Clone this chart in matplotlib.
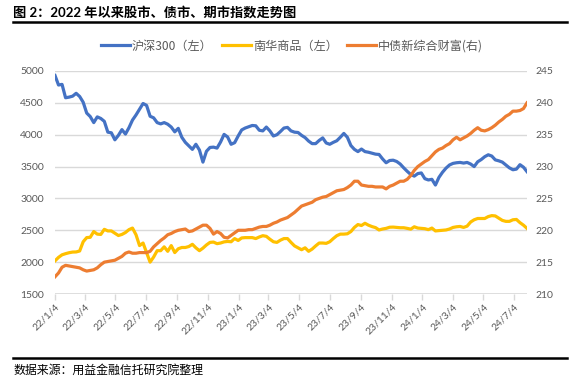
import numpy as np
import matplotlib
matplotlib.use("Agg")
import matplotlib.pyplot as plt
import matplotlib.dates as mdates
import datetime as dt

plt.rcParams['font.family'] = ['Lato', 'Noto Sans CJK SC', 'DejaVu Sans']

title = "图 2：2022 年以来股市、债市、期市指数走势图"
source = "数据来源：用益金融信托研究院整理"
series_names = ["沪深300（左）", "南华商品（左）", "中债新综合财富(右)"]

start_date = dt.date(2022, 1, 4)
end_date = dt.date(2024, 7, 30)

hs300 = [4930, 4780, 4790, 4580, 4590, 4605, 4650, 4600, 4510, 4340,
         4285, 4190, 4280, 4255, 4210, 4040, 4030, 3920, 3990, 4080,
         4010, 4110, 4230, 4310, 4400, 4490, 4460, 4290, 4265, 4190,
         4170, 4190, 4165, 4120, 4045, 4100, 3960, 3880, 3825, 3770,
         3850, 3760, 3570, 3740, 3800,
         3805, 3790, 3885, 4005, 3965, 3850, 3875, 3980, 4075, 4105,
         4125, 4145, 4140, 4070, 4060, 4120, 4060, 3980, 4000, 4050,
         4105, 4115, 4060, 4040, 4035, 3990, 3955, 3900, 3860, 3860,
         3910, 3950, 3870, 3850, 3880, 3905, 3960, 4020, 3960, 3830,
         3770, 3735, 3775, 3735,
         3725, 3710, 3695, 3690, 3620, 3560, 3595, 3600, 3580, 3540,
         3480, 3425, 3375, 3350, 3390, 3400, 3310, 3290, 3300, 3210,
         3330, 3410, 3475, 3525, 3550, 3560, 3565, 3555, 3565, 3540,
         3500, 3575, 3610, 3655, 3685, 3665, 3605, 3590, 3570, 3525,
         3480, 3450, 3460, 3530, 3490, 3420]

nanhua = [2020, 2075, 2115, 2133, 2148, 2158, 2160, 2175, 2320, 2385,
          2390, 2480, 2440, 2435, 2515, 2490, 2490, 2455, 2418, 2435,
          2465, 2510, 2535, 2430, 2260, 2300, 2150, 2000, 2080, 2180,
          2180, 2240, 2170, 2260, 2150, 2210, 2230, 2230, 2245, 2280,
          2225, 2180, 2220, 2270, 2310,
          2315, 2290, 2300, 2318, 2325, 2320, 2370, 2340, 2380, 2385,
          2385, 2385, 2370, 2395, 2415, 2405, 2360, 2320, 2310, 2345,
          2370, 2370, 2310, 2255, 2225, 2195, 2225, 2170, 2205, 2255,
          2300, 2300, 2295, 2320, 2370, 2415, 2440, 2440, 2445, 2480,
          2545, 2590, 2575, 2610,
          2580, 2558, 2542, 2505, 2520, 2530, 2548, 2550, 2545, 2540,
          2540, 2530, 2518, 2555, 2535, 2530, 2525, 2510, 2535, 2490,
          2495, 2500, 2505, 2520, 2545, 2555, 2560, 2545, 2565, 2630,
          2665, 2685, 2685, 2685, 2715, 2730, 2725, 2690, 2655, 2640,
          2640, 2665, 2670, 2620, 2580, 2530]

chinabond = [212.7, 213.3, 214.2, 214.5, 214.4, 214.3, 214.2, 214.1, 213.8, 213.6,
             213.7, 213.8, 214.1, 214.6, 215.0, 215.1, 215.2, 215.3, 215.6, 215.9,
             216.4, 216.6, 216.4, 216.4, 216.5, 216.5, 216.5, 216.7, 217.4, 217.9,
             218.4, 218.8, 219.3, 219.5, 219.8, 220.0, 220.1, 220.2, 219.8, 219.9,
             220.2, 220.5, 220.8, 220.8, 220.3,
             219.4, 219.8, 219.5, 218.9, 218.8, 219.2, 219.6, 220.0, 220.0, 220.0,
             220.1, 220.1, 220.3, 220.5, 220.6, 220.6, 220.8, 221.1, 221.3, 221.6,
             221.8, 222.0, 222.4, 222.8, 223.3, 223.8, 224.0, 224.2, 224.4, 224.8,
             225.0, 225.2, 225.3, 225.6, 225.9, 226.2, 226.3, 226.4, 226.7, 227.1,
             227.7, 227.7, 227.1, 227.0,
             226.9, 226.9, 226.8, 226.8, 226.8, 226.5, 226.9, 227.1, 227.4, 227.7,
             227.7, 228.0, 228.6, 229.4, 230.0, 230.4, 230.8, 231.1, 231.7, 232.3,
             232.7, 232.9, 233.3, 233.6, 234.2, 234.6, 234.2, 234.5, 234.8, 235.2,
             235.7, 236.1, 235.7, 235.6, 235.8, 236.1, 236.5, 237.0, 237.4, 237.9,
             238.2, 238.7, 238.7, 238.8, 239.1, 240.0]

dates = [start_date + dt.timedelta(days=7 * i) for i in range(len(hs300))]

W, H = 574, 384
fig = plt.figure(figsize=(W / 100, H / 100), dpi=100)
fig.patch.set_facecolor('white')

L, R, T, B = 55, 527, 71, 294
ax = fig.add_axes([L / W, 1 - B / H, (R - L) / W, (B - T) / H])
ax2 = ax.twinx()

blue, yellow, orange = '#4472C4', '#FFC000', '#ED7D31'
grid_c = '#D9D9D9'
txt_c = '#595959'
lw = 2.3

l1, = ax.plot(dates, hs300, color=blue, lw=lw, solid_joinstyle='round', zorder=3)
l2, = ax.plot(dates, nanhua, color=yellow, lw=lw, solid_joinstyle='round', zorder=3)
l3, = ax2.plot(dates, chinabond, color=orange, lw=lw, solid_joinstyle='round', zorder=3)

ax.set_ylim(1500, 5000)
ax.set_yticks(np.arange(1500, 5001, 500))
ax2.set_ylim(210, 245)
ax2.set_yticks(np.arange(210, 246, 5))
ax.set_xlim(start_date, end_date)

ax.yaxis.grid(True, color=grid_c, lw=1)
ax.set_axisbelow(True)

for a in (ax, ax2):
    for s in ['top', 'left', 'right', 'bottom']:
        a.spines[s].set_visible(False)
ax.axhline(1500, color=grid_c, lw=1.2, zorder=1)

ax.tick_params(axis='y', length=0, pad=8, labelsize=7.5, labelcolor=txt_c)
ax2.tick_params(axis='y', length=0, pad=6, labelsize=7.5, labelcolor=txt_c)

ax.xaxis.set_major_locator(mdates.MonthLocator(bymonth=[1, 3, 5, 7, 9, 11], bymonthday=4))
ax.xaxis.set_major_formatter(plt.FuncFormatter(
    lambda v, p: (lambda d: f"{d.year % 100}/{d.month}/{d.day}")(mdates.num2date(v))))
ax.tick_params(axis='x', length=4, width=1, color=grid_c, pad=2, labelsize=7.5,
               labelcolor=txt_c, direction='out')
for lab in ax.get_xticklabels():
    lab.set_rotation(45)
    lab.set_ha('right')
    lab.set_rotation_mode('anchor')
ax2.tick_params(axis='x', length=0)

leg = fig.legend([l1, l2, l3], series_names, loc='center', bbox_to_anchor=(292 / W, 1 - 46 / H),
                 ncol=3, frameon=False, handlelength=2.4, handletextpad=0.15,
                 columnspacing=0.8, prop={'family': ['Noto Sans CJK SC'], 'size': 8.7})
for t in leg.get_texts():
    t.set_color(txt_c)

fig.text(13 / W, 1 - 12 / H, title, fontsize=9.5, fontweight='bold', va='center', ha='left',
         family=['Lato', 'Noto Sans CJK SC'], color='black')
fig.add_artist(plt.Line2D([13 / W, 567 / W], [1 - 21.5 / H, 1 - 21.5 / H], color='black', lw=1.8))
fig.add_artist(plt.Line2D([13 / W, 567 / W], [1 - 358 / H, 1 - 358 / H], color='black', lw=1.8))
fig.text(13 / W, 1 - 370 / H, source, fontsize=8.6, va='center', ha='left',
         family=['Noto Sans CJK SC'], color='black')

fig.savefig('out.png', dpi=100, facecolor='white')
